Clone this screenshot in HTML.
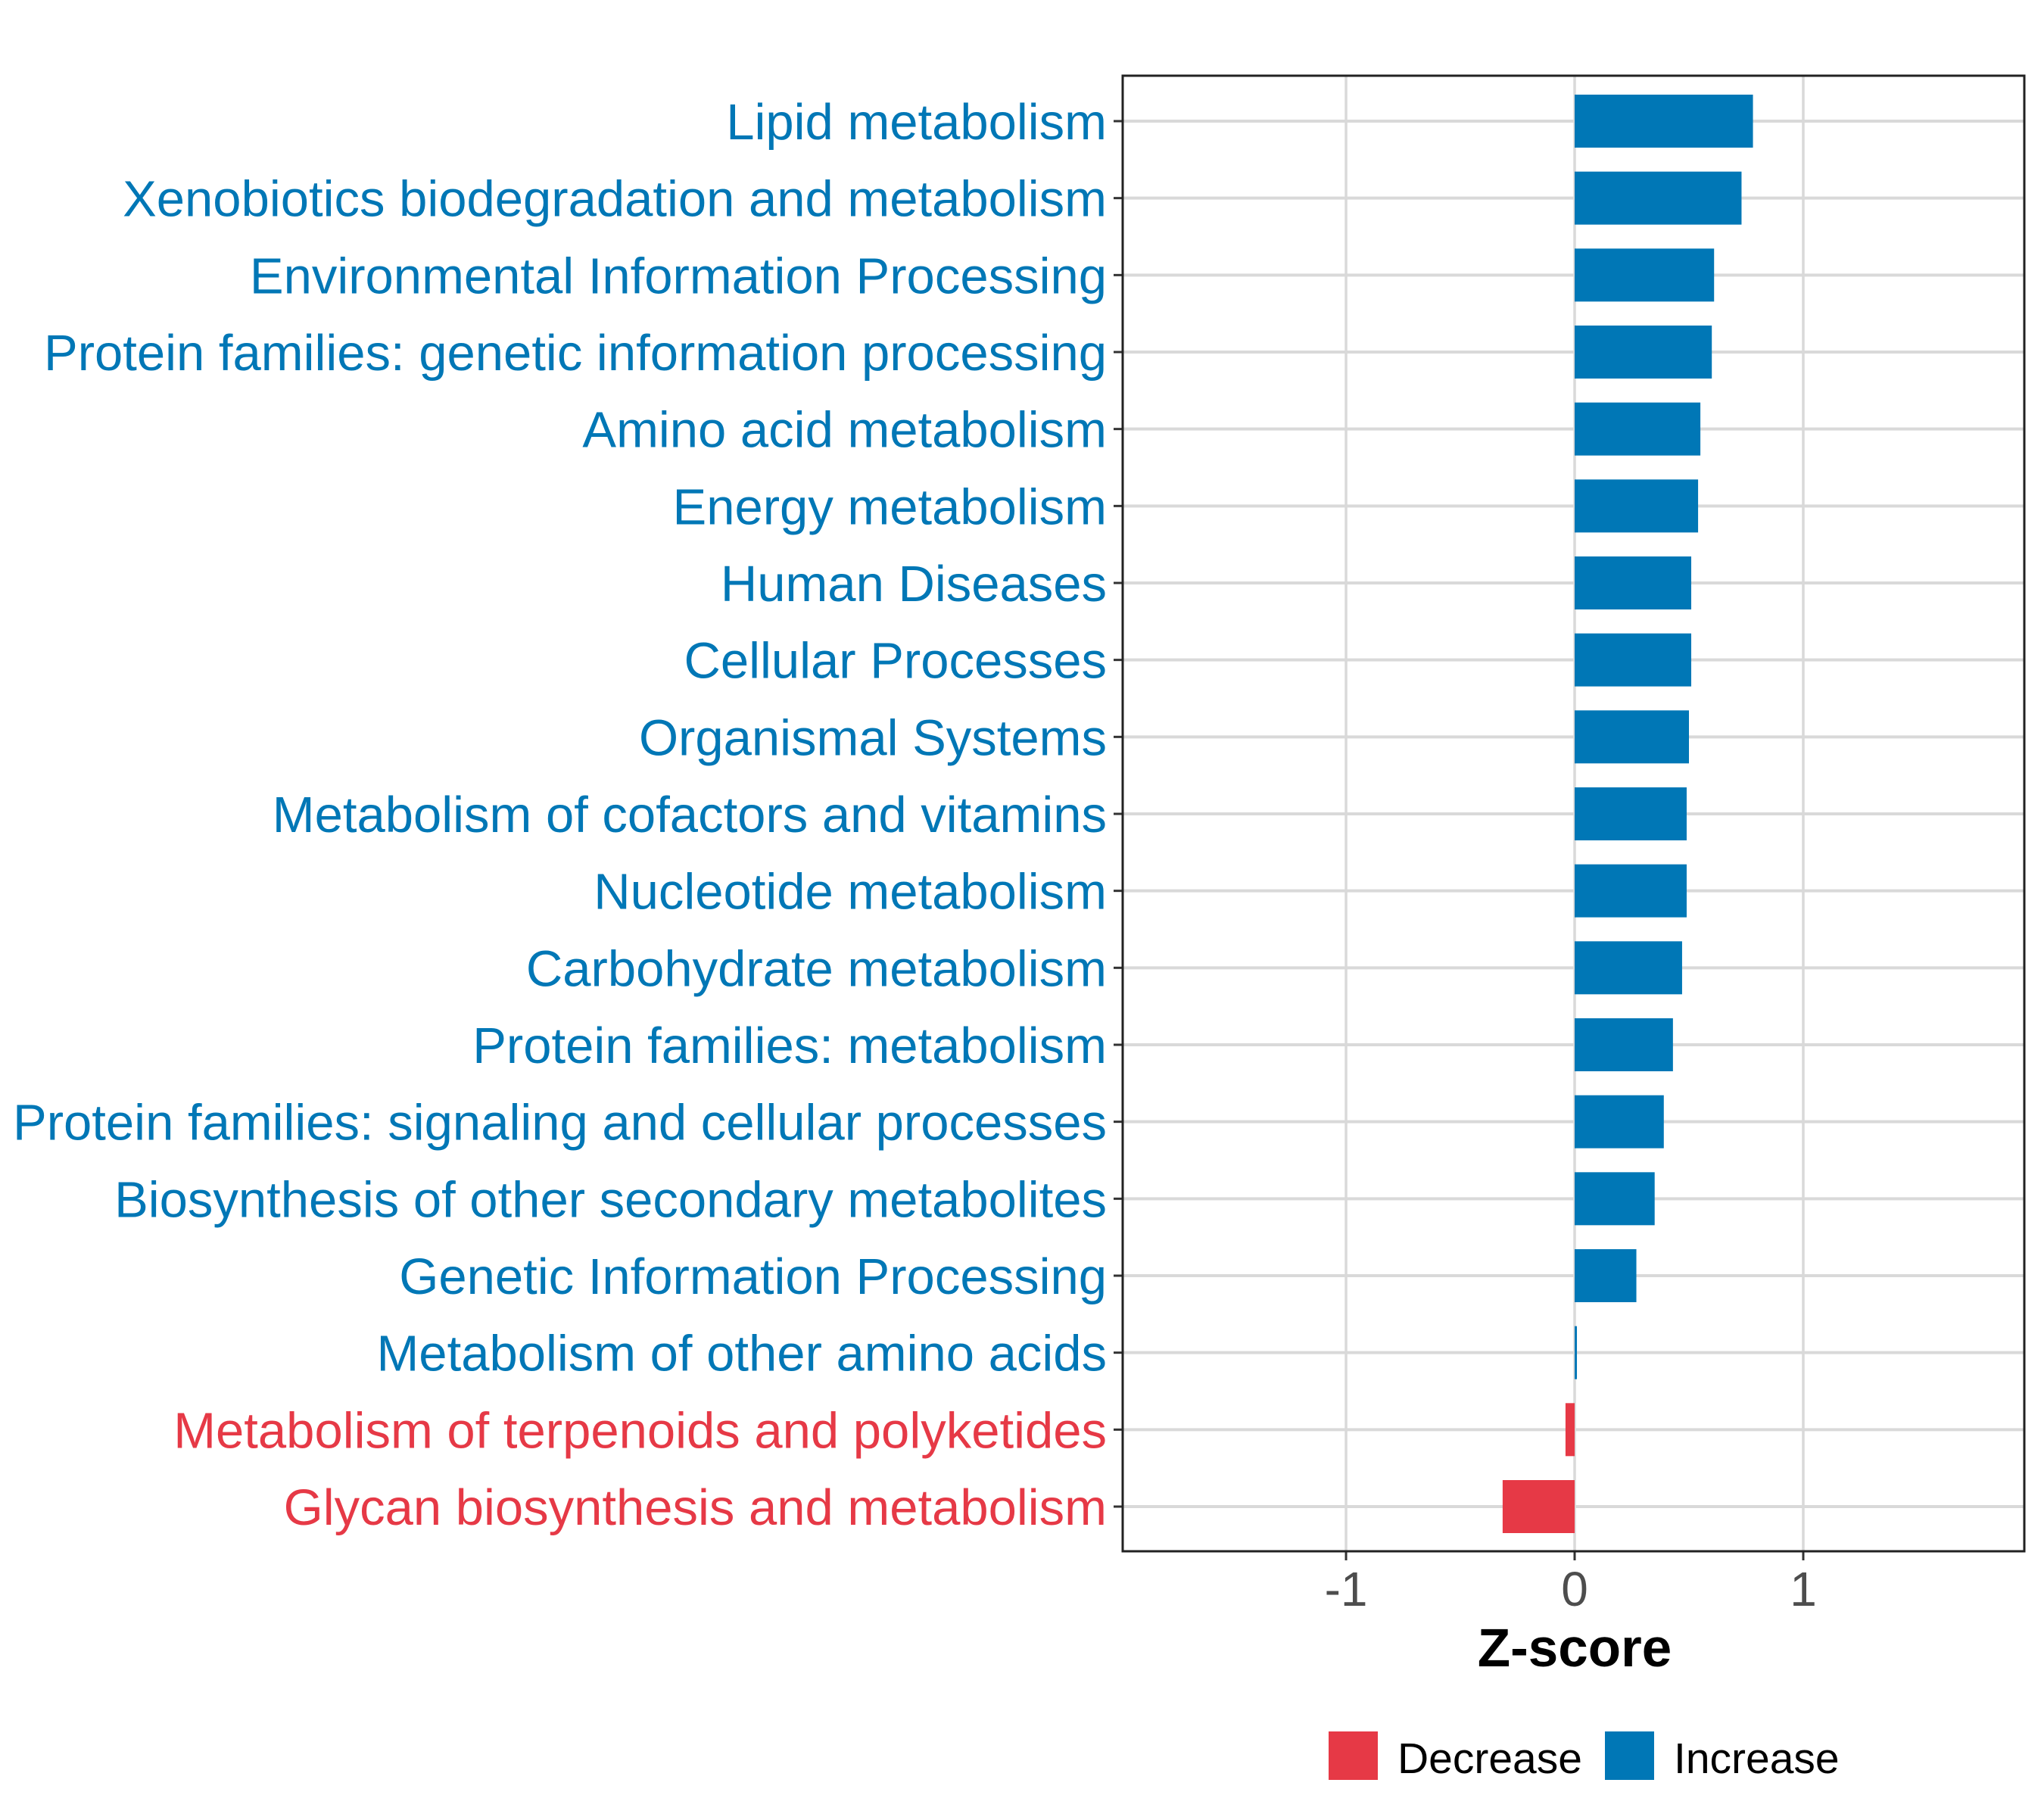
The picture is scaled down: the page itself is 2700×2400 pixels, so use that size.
<!DOCTYPE html>
<html><head><meta charset="utf-8"><style>
html,body{margin:0;padding:0;background:#fff;}
svg{display:block;font-family:"Liberation Sans",Arial,sans-serif;}
</style></head><body>
<svg id="chart" width="2700" height="2400" viewBox="0 0 2700 2400" xmlns="http://www.w3.org/2000/svg">
<rect width="2700" height="2400" fill="#fff"/>
<g id="grid"></g>
<g id="bars"></g>
<g id="ylabels"></g>
<g id="xaxis"></g>
<rect x="1483" y="100" width="1191" height="1949" fill="none" stroke="#222" stroke-width="3"/>
<text x="2080" y="2201" font-size="71" font-weight="bold" text-anchor="middle" fill="#000">Z-score</text>
<g>
  <rect x="1755" y="2287" width="65" height="64" fill="#E63946"/>
  <text x="1846" y="2342" font-size="57" fill="#000">Decrease</text>
  <rect x="2120" y="2287" width="65" height="64" fill="#0077B6"/>
  <text x="2211" y="2342" font-size="57" fill="#000">Increase</text>
</g>
</svg>
<script>
const categories = ["Lipid metabolism","Xenobiotics biodegradation and metabolism","Environmental Information Processing","Protein families: genetic information processing","Amino acid metabolism","Energy metabolism","Human Diseases","Cellular Processes","Organismal Systems","Metabolism of cofactors and vitamins","Nucleotide metabolism","Carbohydrate metabolism","Protein families: metabolism","Protein families: signaling and cellular processes","Biosynthesis of other secondary metabolites","Genetic Information Processing","Metabolism of other amino acids","Metabolism of terpenoids and polyketides","Glycan biosynthesis and metabolism"];
const zscores = [0.78,0.73,0.61,0.60,0.55,0.54,0.51,0.51,0.50,0.49,0.49,0.47,0.43,0.39,0.35,0.27,0.01,-0.04,-0.315];
const xTicks = [-1,0,1];
const xTickLabels = ["-1","0","1"];

const NS = "http://www.w3.org/2000/svg";
const plotL = 1483, plotR = 2674, plotT = 100, plotB = 2049;
const xMin = -1.977, xMax = 1.967;
const rowTop = 160, rowBot = 1990;
function xScale(v){ return plotL + (v - xMin) / (xMax - xMin) * (plotR - plotL); }
function yScale(i){ return rowTop + i * (rowBot - rowTop) / (categories.length - 1); }
function mk(tag, attrs, parent){ const e = document.createElementNS(NS, tag); for (const k in attrs) e.setAttribute(k, attrs[k]); parent.appendChild(e); return e; }
const grid = document.getElementById('grid'), bars = document.getElementById('bars'), yl = document.getElementById('ylabels'), xa = document.getElementById('xaxis');
const BLUE = "#0077B6", RED = "#E63946";

xTicks.forEach((t, i) => {
  const x = xScale(t);
  const g = mk('line', {x1:x, x2:x, y1:plotT, y2:plotB, stroke:'#d9d9d9', 'stroke-width':3.5}, grid);
  
  
  const tk = mk('line', {x1:x, x2:x, y1:plotB, y2:plotB+12, stroke:'#333', 'stroke-width':3}, xa);
  
  
  const lb = mk('text', {x:x, y:2121, 'font-size':64, 'text-anchor':'middle', fill:'#4d4d4d'}, xa);
  lb.textContent = xTickLabels[i];
  
  
});
categories.forEach((c, i) => {
  const y = yScale(i);
  const v = zscores[i];
  const col = v >= 0 ? BLUE : RED;
  const gl = mk('line', {x1:plotL, x2:plotR, y1:y, y2:y, stroke:'#d9d9d9', 'stroke-width':4}, grid);
  
  
  const x0 = xScale(0), x1 = xScale(v);
  const b = mk('rect', {x:Math.min(x0,x1), y:y-35, width:Math.max(Math.abs(x1-x0),1), height:70, fill:col}, bars);
  
  
  const tk = mk('line', {x1:plotL-12, x2:plotL, y1:y, y2:y, stroke:'#333', 'stroke-width':3}, yl);
  
  
  const t = mk('text', {x:1462, y:y+24, 'font-size':67, 'text-anchor':'end', fill:col}, yl);
  t.textContent = c;
  
  
});
</script>
</body></html>
